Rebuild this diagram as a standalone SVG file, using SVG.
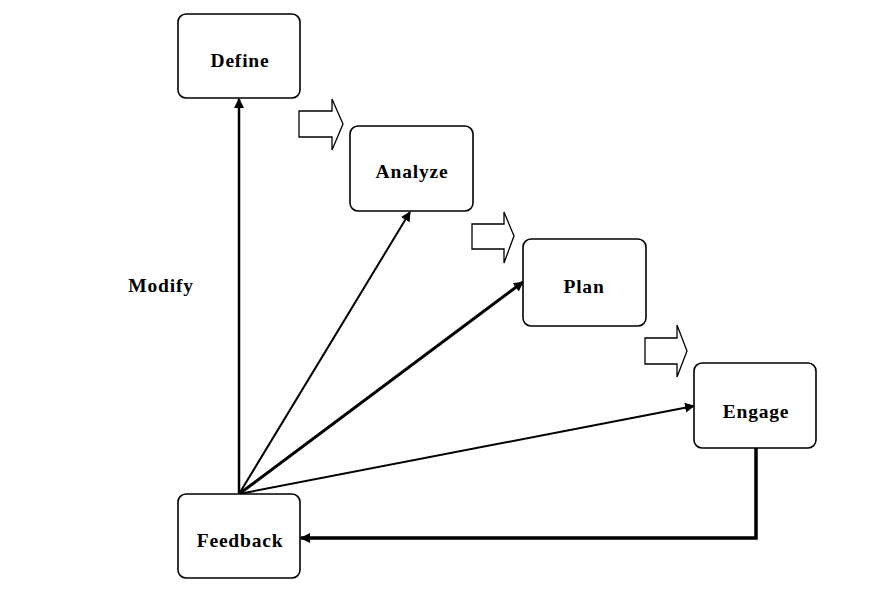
<svg xmlns="http://www.w3.org/2000/svg" width="895" height="610" viewBox="0 0 895 610">
<defs>
<style>
.box{fill:#fff;stroke:#000;stroke-width:1.6}
.lbl{font-family:"Liberation Serif","Times New Roman",serif;font-weight:bold;font-size:19.5px;letter-spacing:0.8px;fill:#000;text-anchor:middle;dominant-baseline:central}
.blk{fill:#fff;stroke:#000;stroke-width:1.3}
.ln{fill:none;stroke:#000}
</style>
<marker id="ah" viewBox="0 0 10 10" refX="9" refY="5" markerWidth="10" markerHeight="10" markerUnits="userSpaceOnUse" orient="auto">
<path d="M0,0 L10,5 L0,10 z" fill="#000"/>
</marker>
</defs>
<rect width="895" height="610" fill="#fff"/>
<g id="connectors">
<line class="ln" x1="239" y1="494" x2="239" y2="99" stroke-width="2.5" marker-end="url(#ah)"/>
<line class="ln" x1="239" y1="494" x2="410" y2="212" stroke-width="2" marker-end="url(#ah)"/>
<line class="ln" x1="239" y1="494" x2="523" y2="282" stroke-width="3" marker-end="url(#ah)"/>
<line class="ln" x1="239" y1="494" x2="694" y2="406" stroke-width="2" marker-end="url(#ah)"/>
<polyline class="ln" points="756,448 756,538 301,538" stroke-width="3.5" marker-end="url(#ah)"/>
<polygon class="blk" points="299,111 332,111 332,99 343,124 332,150 332,137 299,137"/>
<polygon class="blk" points="472,224 504,224 504,212 514,236 504,263 504,249 472,249"/>
<polygon class="blk" points="645,338 677,338 677,325 687,351 677,377 677,364 645,364"/>
</g>
<g id="define"><rect class="box" x="178" y="14" width="122" height="84" rx="8"/><text class="lbl" x="240" y="60">Define</text></g>
<g id="analyze"><rect class="box" x="350" y="126" width="123" height="85" rx="8"/><text class="lbl" x="412" y="171">Analyze</text></g>
<g id="plan"><rect class="box" x="523" y="239" width="123" height="87" rx="8"/><text class="lbl" x="584" y="286">Plan</text></g>
<g id="engage"><rect class="box" x="694" y="363" width="122" height="85" rx="8"/><text class="lbl" x="756" y="411">Engage</text></g>
<g id="feedback"><rect class="box" x="178" y="494" width="122" height="84" rx="8"/><text class="lbl" x="240" y="540">Feedback</text></g>
<g id="modify"><text class="lbl" x="161" y="285">Modify</text></g>
</svg>
